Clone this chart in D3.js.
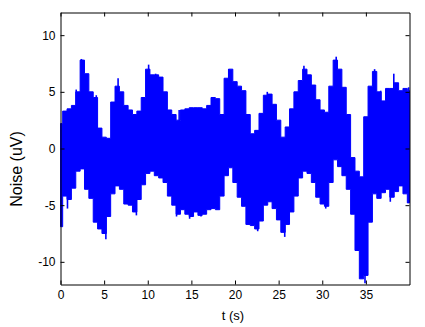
<!DOCTYPE html>
<html>

<head>
  <meta charset="utf-8">
  <style>
    body {
      margin: 0;
      background: white;
      font-family: "Liberation Sans", Arial, sans-serif;
    }

    svg text {
      font-family: "Liberation Sans", Arial, sans-serif;
      fill: black;
    }
  </style>
</head>

<body>
  <svg id="chart"></svg>

  <script src="https://cdn.jsdelivr.net/npm/d3@7/dist/d3.min.js"></script>
  <script>
    // sample times (s), one every 0.5 s
    var times = d3.range(0, 40.5, 0.5);
    // upper edge of the noise band (uV)
    var upper = [2.2, 3.3, 3.5, 3.8, 5.0, 7.8, 6.6, 5.0, 4.5, 1.8,
      1.0, 0.9, 4.1, 5.5, 5.0, 3.8, 3.4, 3.0, 3.3, 4.5,
      7.0, 6.5, 6.5, 6.3, 5.0, 3.4, 3.0, 2.5, 3.4, 3.5,
      3.6, 3.6, 3.6, 3.5, 3.8, 4.5, 4.4, 3.0, 6.2, 7.0,
      5.9, 5.5, 5.1, 3.0, 1.3, 1.6, 3.1, 4.7, 4.8, 3.9,
      2.5, 1.0, 1.9, 3.5, 5.0, 6.0, 7.0, 6.5, 5.6, 4.3,
      3.4, 3.2, 5.5, 7.8, 7.0, 5.4, 3.0, -0.8, -2.0, -2.5,
      2.8, 5.5, 6.8, 5.0, 4.2, 5.3, 5.3, 5.8, 5.1, 5.3, 5.1];
    // lower edge of the noise band (uV)
    var lower = [-6.9, -4.2, -4.5, -3.5, -2.0, -1.8, -3.6, -4.4, -6.5, -7.1,
      -7.5, -6.0, -4.0, -3.3, -3.6, -4.9, -5.0, -5.6, -4.5, -3.2,
      -2.2, -2.0, -2.4, -2.6, -3.0, -4.2, -5.0, -5.8, -5.4, -5.8,
      -6.0, -5.6, -5.9, -5.8, -5.4, -5.3, -5.4, -4.2, -2.4, -1.7,
      -3.0, -4.3, -5.1, -6.7, -6.8, -7.1, -6.4, -5.0, -4.7, -5.3,
      -6.3, -7.4, -6.7, -5.6, -4.2, -2.6, -2.0, -2.2, -3.0, -4.3,
      -4.9, -5.1, -3.0, -1.0, -1.6, -2.4, -3.6, -5.8, -9.0, -11.5,
      -11.2, -6.5, -4.0, -4.4, -3.9, -3.6, -4.3, -3.8, -3.3, -4.0, -4.8];
    // single narrow spikes sticking out of the band
    var spikeT = [1.8, 2.4, 4.1, 6.6, 10.1, 10.9, 13.6, 19.3, 21.1, 23.7,
      27.9, 31.6, 36.0, 36.7, 38.2, 39.9,
      0.8, 5.2, 8.7, 13.3, 14.8, 16.1, 22.6, 25.7, 30.4, 34.9, 37.8];
    var spikeV = [5.2, 7.9, 4.7, 6.2, 7.4, 6.6, 3.4, 7.0, 5.1, 5.0,
      7.3, 8.1, 7.0, 5.1, 6.6, 5.4,
      -5.3, -8.0, -5.9, -6.0, -6.2, -6.0, -7.3, -7.8, -5.3, -11.9, -4.7];
    var xTicks = [0, 5, 10, 15, 20, 25, 30, 35];
    var yTicks = [-10, -5, 0, 5, 10];

    var width = 425, height = 327;
    var svg = d3.select("#chart")
      .attr("width", width)
      .attr("height", height);

    var x = d3.scaleLinear().domain([0, 40]).range([60.5, 409.5]);
    var y = d3.scaleLinear().domain([-12, 12]).range([284.5, 12.5]);

    var band = times.map(function (t, i) {
      return { t: t, hi: upper[i], lo: lower[i] };
    });

    // the noise band, stepped like the dense trace
    var area = d3.area()
      .x(function (d) { return x(d.t); })
      .y0(function (d) { return y(d.lo); })
      .y1(function (d) { return y(d.hi); })
      .curve(d3.curveStep);
    svg.append("path")
      .datum(band)
      .attr("d", area)
      .attr("fill", "#0000ff")
      .attr("stroke", "#0000ff")
      .attr("stroke-width", 1);

    // spikes
    svg.append("g").selectAll("line")
      .data(spikeT)
      .join("line")
      .attr("x1", function (d) { return x(d); })
      .attr("x2", function (d) { return x(d); })
      .attr("y1", y(0))
      .attr("y2", function (d, i) { return y(spikeV[i]); })
      .attr("stroke", "#0000ff")
      .attr("stroke-width", 1.6);

    // axes, ticks pointing inward on all four sides
    var plain = function (d) { return String(d); };
    svg.append("g")
      .attr("transform", "translate(0," + y(-12) + ")")
      .call(d3.axisBottom(x).tickValues(xTicks).tickFormat(plain).tickSizeInner(-4).tickSizeOuter(0).tickPadding(6))
      .call(styleAxis);
    svg.append("g")
      .attr("transform", "translate(0," + y(12) + ")")
      .call(d3.axisTop(x).tickValues(xTicks).tickSizeInner(-4).tickSizeOuter(0).tickFormat(""))
      .call(styleAxis);
    svg.append("g")
      .attr("transform", "translate(" + x(0) + ",0)")
      .call(d3.axisLeft(y).tickValues(yTicks).tickFormat(plain).tickSizeInner(-4).tickSizeOuter(0).tickPadding(5))
      .call(styleAxis);
    svg.append("g")
      .attr("transform", "translate(" + x(40) + ",0)")
      .call(d3.axisRight(y).tickValues(yTicks).tickSizeInner(-4).tickSizeOuter(0).tickFormat(""))
      .call(styleAxis);

    function styleAxis(g) {
      g.select(".domain").attr("stroke", "black").attr("stroke-width", 1);
      g.selectAll(".tick line").attr("stroke", "black");
      g.selectAll(".tick text")
        .attr("font-size", "12px")
        .attr("font-family", "Liberation Sans, Arial, sans-serif");
    }

    // axis labels
    svg.append("text")
      .text("t (s)")
      .attr("x", 233)
      .attr("y", 320)
      .attr("text-anchor", "middle")
      .attr("font-size", "13px");
    svg.append("text")
      .text("Noise (uV)")
      .attr("text-anchor", "middle")
      .attr("font-size", "16px")
      .attr("transform", "translate(22,169) rotate(-90)");
  </script>
</body>

</html>
